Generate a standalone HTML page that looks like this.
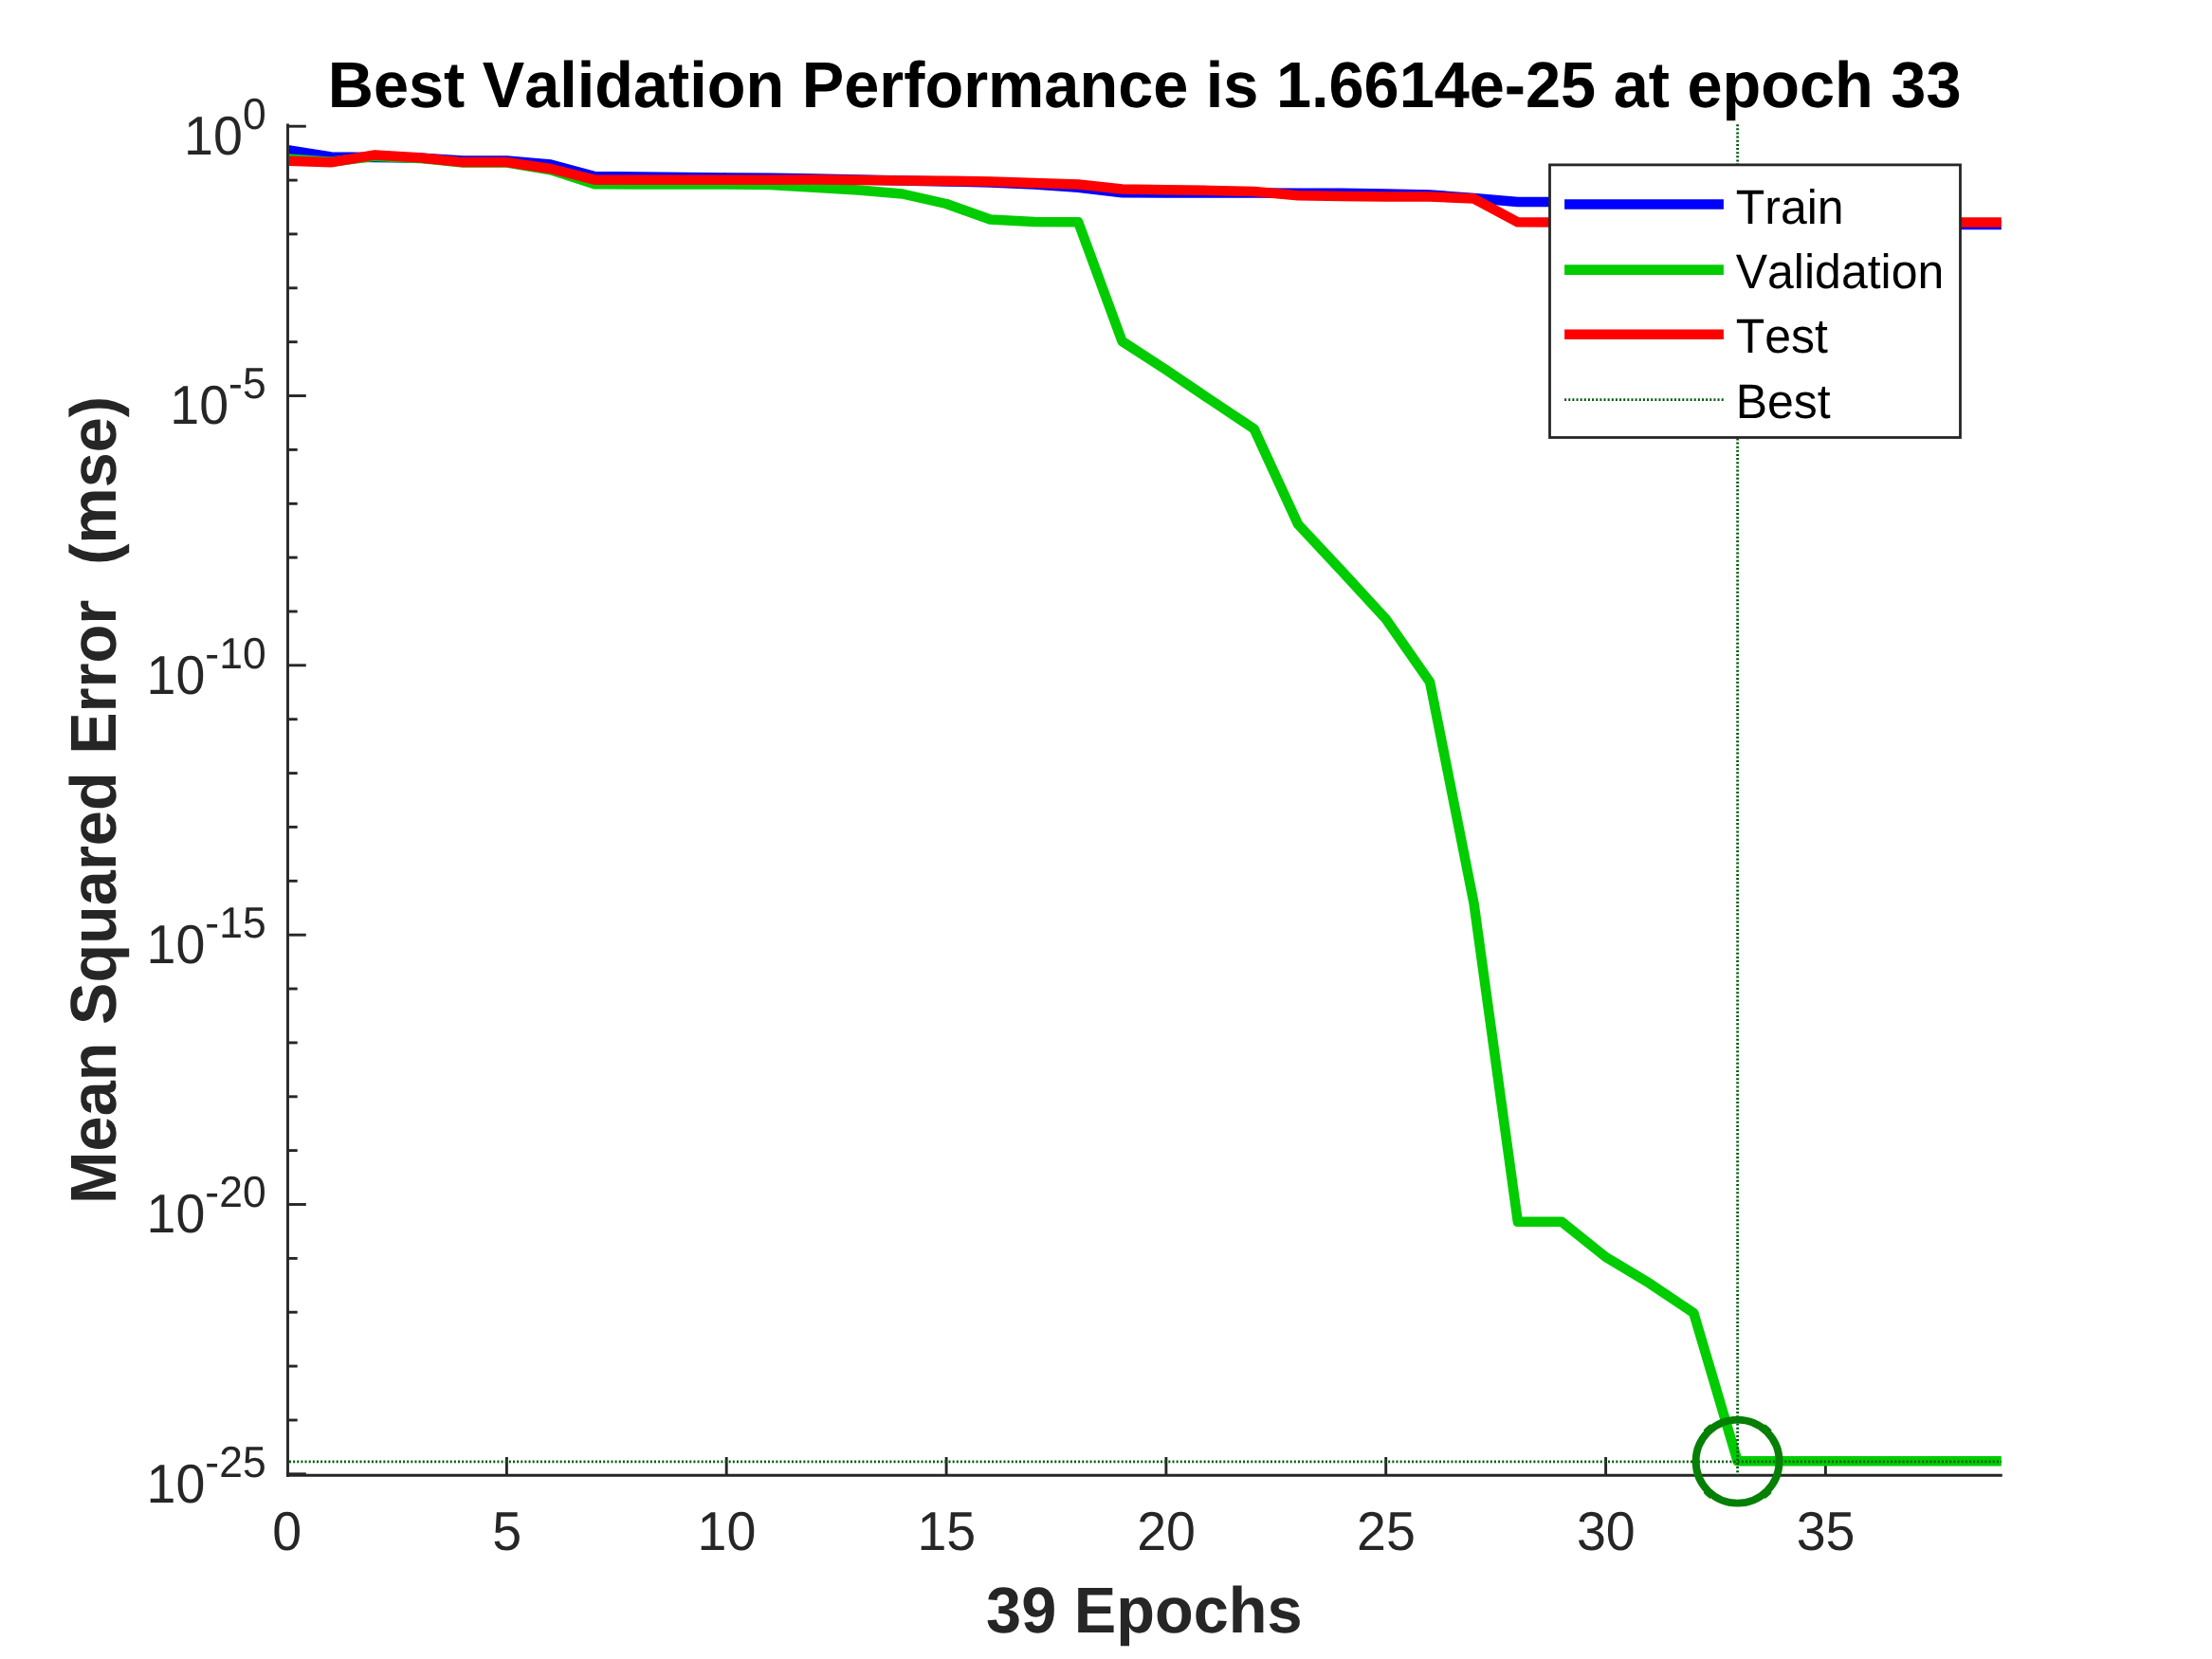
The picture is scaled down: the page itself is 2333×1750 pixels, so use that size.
<!DOCTYPE html>
<html lang="en"><head><meta charset="utf-8"><title>Best Validation Performance</title>
<style>html,body{margin:0;padding:0;background:#fff;overflow:hidden}svg{display:block;will-change:transform}text{font-family:"Liberation Sans",Arial,Helvetica,sans-serif;font-kerning:none;text-rendering:geometricPrecision}</style></head><body>
<svg width="2333" height="1750" viewBox="0 0 2333 1750">
<rect width="2333" height="1750" fill="#fff"/>
<g stroke="#262626" stroke-width="2.9" fill="none" stroke-linecap="butt">
<line x1="303.5" y1="130.4" x2="303.5" y2="1557.8"/>
<line x1="302.1" y1="1556.3" x2="2111.8" y2="1556.3"/>
<line x1="303.5" y1="133.2" x2="322.8" y2="133.2"/>
<line x1="303.5" y1="190.1" x2="313.7" y2="190.1"/>
<line x1="303.5" y1="246.9" x2="313.7" y2="246.9"/>
<line x1="303.5" y1="303.8" x2="313.7" y2="303.8"/>
<line x1="303.5" y1="360.7" x2="313.7" y2="360.7"/>
<line x1="303.5" y1="417.5" x2="322.8" y2="417.5"/>
<line x1="303.5" y1="474.4" x2="313.7" y2="474.4"/>
<line x1="303.5" y1="531.3" x2="313.7" y2="531.3"/>
<line x1="303.5" y1="588.1" x2="313.7" y2="588.1"/>
<line x1="303.5" y1="645.0" x2="313.7" y2="645.0"/>
<line x1="303.5" y1="701.8" x2="322.8" y2="701.8"/>
<line x1="303.5" y1="758.7" x2="313.7" y2="758.7"/>
<line x1="303.5" y1="815.6" x2="313.7" y2="815.6"/>
<line x1="303.5" y1="872.4" x2="313.7" y2="872.4"/>
<line x1="303.5" y1="929.3" x2="313.7" y2="929.3"/>
<line x1="303.5" y1="986.2" x2="322.8" y2="986.2"/>
<line x1="303.5" y1="1043.0" x2="313.7" y2="1043.0"/>
<line x1="303.5" y1="1099.9" x2="313.7" y2="1099.9"/>
<line x1="303.5" y1="1156.8" x2="313.7" y2="1156.8"/>
<line x1="303.5" y1="1213.6" x2="313.7" y2="1213.6"/>
<line x1="303.5" y1="1270.5" x2="322.8" y2="1270.5"/>
<line x1="303.5" y1="1327.4" x2="313.7" y2="1327.4"/>
<line x1="303.5" y1="1384.2" x2="313.7" y2="1384.2"/>
<line x1="303.5" y1="1441.1" x2="313.7" y2="1441.1"/>
<line x1="303.5" y1="1498.0" x2="313.7" y2="1498.0"/>
<line x1="303.5" y1="1554.8" x2="322.8" y2="1554.8"/>
<line x1="534.4" y1="1556.3" x2="534.4" y2="1537.0"/>
<line x1="766.2" y1="1556.3" x2="766.2" y2="1537.0"/>
<line x1="998.1" y1="1556.3" x2="998.1" y2="1537.0"/>
<line x1="1229.9" y1="1556.3" x2="1229.9" y2="1537.0"/>
<line x1="1461.7" y1="1556.3" x2="1461.7" y2="1537.0"/>
<line x1="1693.6" y1="1556.3" x2="1693.6" y2="1537.0"/>
<line x1="1925.4" y1="1556.3" x2="1925.4" y2="1537.0"/>
</g>
<defs><clipPath id="plotclip"><rect x="304.95" y="0" width="1806.19" height="1750"/></clipPath></defs>
<g fill="none" stroke-width="10.5" stroke-linejoin="round" stroke-linecap="butt" clip-path="url(#plotclip)">
<polyline stroke="#0000ff" points="302.6,158.1 349.0,165.4 395.3,166.0 441.7,166.5 488.1,169.5 534.4,169.5 580.8,173.6 627.2,186.1 673.5,186.6 719.9,187.0 766.2,187.4 812.6,187.8 859.0,188.4 905.3,189.4 951.7,190.4 998.1,191.4 1044.4,192.4 1090.8,194.5 1137.2,197.8 1183.5,203.2 1229.9,203.4 1276.3,203.4 1322.6,203.6 1369.0,203.7 1415.4,203.8 1461.7,204.4 1508.1,205.6 1554.5,208.9 1600.8,213.1 1647.2,213.1 1693.6,213.1 1739.9,213.1 1786.3,236.9 1832.6,236.9 1879.0,236.9 1925.4,236.9 1971.7,236.9 2018.1,236.9 2064.5,236.9 2110.8,236.9"/>
<polyline stroke="#00cc00" points="302.6,167.5 349.0,170.7 395.3,164.9 441.7,166.9 488.1,171.6 534.4,171.5 580.8,179.2 627.2,194.2 673.5,194.5 719.9,194.5 766.2,194.6 812.6,195.1 859.0,197.8 905.3,200.5 951.7,204.5 998.1,215.0 1044.4,231.5 1090.8,234.0 1137.2,234.2 1183.5,360.0 1229.9,390.2 1276.3,421.5 1322.6,452.3 1369.0,553.0 1415.4,602.6 1461.7,653.0 1508.1,719.5 1554.5,952.7 1600.8,1288.8 1647.2,1288.8 1693.6,1326.0 1739.9,1353.8 1786.3,1385.0 1832.6,1541.3 1879.0,1541.3 1925.4,1541.3 1971.7,1541.3 2018.1,1541.3 2064.5,1541.3 2110.8,1541.3"/>
<polyline stroke="#ff0000" points="302.6,169.8 349.0,171.2 395.3,163.4 441.7,166.2 488.1,171.1 534.4,171.1 580.8,178.0 627.2,189.7 673.5,189.7 719.9,189.7 766.2,189.7 812.6,189.7 859.0,189.6 905.3,189.9 951.7,190.4 998.1,190.8 1044.4,191.4 1090.8,193.1 1137.2,194.5 1183.5,199.5 1229.9,200.3 1276.3,200.9 1322.6,202.0 1369.0,206.2 1415.4,207.1 1461.7,207.4 1508.1,207.5 1554.5,209.6 1600.8,234.3 1647.2,234.4 1693.6,234.4 1739.9,234.4 1786.3,234.4 1832.6,234.4 1879.0,234.4 1925.4,234.4 1971.7,234.4 2018.1,234.4 2064.5,234.4 2110.8,234.4"/>
</g>
<g stroke="#005c0a" stroke-width="2.8" stroke-dasharray="2 2.14" fill="none">
<line x1="1832.6" y1="131.2" x2="1832.6" y2="1556.3"/>
<line x1="305.0" y1="1541.8" x2="2110.8" y2="1541.8"/>
</g>
<circle cx="1832.6" cy="1541.6" r="44" fill="none" stroke="#058005" stroke-width="7.9"/>
<path d="M1865.82,1572.00 A45.0,45.0 0 0 1 1859.41,1577.77 M1805.88,1577.77 A45.0,45.0 0 0 1 1799.47,1572.00 M1799.47,1511.20 A45.0,45.0 0 0 1 1805.88,1505.43 M1859.41,1505.43 A45.0,45.0 0 0 1 1865.82,1511.20" fill="none" stroke="#058005" stroke-width="7.9"/>
<rect x="1634.5" y="173.9" width="433" height="287.6" fill="#fff" stroke="#262626" stroke-width="2.8"/>
<g fill="none" stroke-width="10.6">
<line x1="1650.1" x2="1817.9" y1="215.5" y2="215.5" stroke="#0000ff"/>
<line x1="1650.1" x2="1817.9" y1="284.6" y2="284.6" stroke="#00cc00"/>
<line x1="1650.1" x2="1817.9" y1="352.8" y2="352.8" stroke="#ff0000"/>
</g>
<line x1="1650.1" x2="1817.9" y1="421.6" y2="421.6" stroke="#005c0a" stroke-width="2.8" stroke-dasharray="2 2.14"/>
<g font-size="50" fill="#000">
<text transform="translate(1830.7,236.3) scale(1,1.022)">Train</text>
<text transform="translate(1830.7,304.2) scale(1,1.022)">Validation</text>
<text transform="translate(1830.7,372.3) scale(1,1.022)">Test</text>
<text transform="translate(1830.7,440.8) scale(1,1.022)">Best</text>
</g>
<g font-size="55.56" fill="#262626">
<text transform="translate(302.8,1634.5) scale(1,1.038)" text-anchor="middle">0</text>
<text transform="translate(534.6,1634.5) scale(1,1.038)" text-anchor="middle">5</text>
<text transform="translate(766.5,1634.5) scale(1,1.038)" text-anchor="middle">10</text>
<text transform="translate(998.3,1634.5) scale(1,1.038)" text-anchor="middle">15</text>
<text transform="translate(1230.1,1634.5) scale(1,1.038)" text-anchor="middle">20</text>
<text transform="translate(1461.9,1634.5) scale(1,1.038)" text-anchor="middle">25</text>
<text transform="translate(1693.8,1634.5) scale(1,1.038)" text-anchor="middle">30</text>
<text transform="translate(1925.6,1634.5) scale(1,1.038)" text-anchor="middle">35</text>
<text transform="translate(255.9,163.0) scale(1,1.038)" text-anchor="end">10</text>
<text transform="translate(280.6,136.0) scale(1,1.038)" text-anchor="end" font-size="44.44">0</text>
<text transform="translate(241.1,447.3) scale(1,1.038)" text-anchor="end">10</text>
<text transform="translate(280.6,420.3) scale(1,1.038)" text-anchor="end" font-size="44.44">-5</text>
<text transform="translate(216.4,731.6) scale(1,1.038)" text-anchor="end">10</text>
<text transform="translate(280.6,704.6) scale(1,1.038)" text-anchor="end" font-size="44.44">-10</text>
<text transform="translate(216.4,1016.0) scale(1,1.038)" text-anchor="end">10</text>
<text transform="translate(280.6,989.0) scale(1,1.038)" text-anchor="end" font-size="44.44">-15</text>
<text transform="translate(216.4,1300.3) scale(1,1.038)" text-anchor="end">10</text>
<text transform="translate(280.6,1273.3) scale(1,1.038)" text-anchor="end" font-size="44.44">-20</text>
<text transform="translate(216.4,1584.6) scale(1,1.038)" text-anchor="end">10</text>
<text transform="translate(280.6,1557.6) scale(1,1.038)" text-anchor="end" font-size="44.44">-25</text>
</g>
<text transform="translate(1207.1,112.8) scale(1,1.025)" text-anchor="middle" font-size="66.67" font-weight="bold" fill="#000">Best Validation Performance is 1.6614e-25 at epoch 33</text>
<text transform="translate(1206.8,1721.6) scale(1,1.025)" text-anchor="middle" font-size="66.67" font-weight="bold" fill="#262626">39 Epochs</text>
<text transform="translate(122,844) rotate(-90) scale(1,1.025)" text-anchor="middle" font-size="66.67" font-weight="bold" fill="#262626" xml:space="preserve">Mean Squared Error  (mse)</text>
</svg></body></html>
